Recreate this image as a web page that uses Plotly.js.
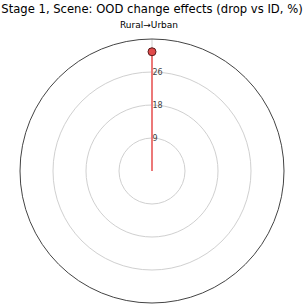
<!DOCTYPE html>
<html><head><meta charset="utf-8">
<script src="https://cdn.plot.ly/plotly-3.0.1.min.js"></script>
<style>html,body{margin:0;padding:0;background:#fff}</style>
</head><body>
<div id="chart" style="width:304px;height:304px"></div>
<script>
const categories = ['Rural→Urban'];
const dropValues = [31.8];
const radialTickVals = [8.8, 17.6, 26.4];
const radialTickText = ['9', '18', '26'];
const radialMax = 35.2;

const stemR = [], stemTheta = [];
categories.forEach((c, i) => { stemR.push(0, dropValues[i], null); stemTheta.push(c, c, c); });

const data = [
  {type: 'scatterpolar', mode: 'lines', r: stemR, theta: stemTheta,
   line: {color: '#ec7878', width: 2}, hoverinfo: 'skip', showlegend: false},
  {type: 'scatterpolar', mode: 'markers', r: dropValues, theta: categories,
   marker: {color: '#e04a4a', size: 8, line: {color: '#5a1a1a', width: 1}}, showlegend: false}
];

const layout = {
  width: 304, height: 304,
  margin: {l: 0, r: 0, t: 0, b: 0},
  paper_bgcolor: '#fff',
  font: {family: 'DejaVu Sans', color: '#000'},
  title: {text: 'Stage 1, Scene: OOD change effects (drop vs ID, %)',
          font: {family: 'DejaVu Sans', size: 11.6, color: '#000'},
          x: 0.5, xanchor: 'center', y: 0.97, yanchor: 'middle', yref: 'container'},
  polar: {
    domain: {x: [20/304, 284/304], y: [1 - 303/304, 1 - 39/304]},
    bgcolor: '#fff',
    angularaxis: {type: 'category', categoryarray: categories, rotation: 90, direction: 'clockwise',
      showline: true, linecolor: '#444', linewidth: 1,
      showgrid: true, gridcolor: '#d0d0d0', gridwidth: 1,
      ticks: '', showticklabels: false},
    radialaxis: {range: [0, radialMax], angle: 90, tickangle: 90,
      tickvals: radialTickVals, ticktext: radialTickText,
      showline: false, ticks: '', side: 'clockwise',
      showgrid: true, gridcolor: '#d0d0d0', gridwidth: 1,
      tickfont: {family: 'DejaVu Sans', size: 8, color: '#444'}}
  },
  annotations: [{text: categories[0], xref: 'paper', yref: 'paper', x: 148.5/304, y: 1 - 25/304,
    xanchor: 'center', yanchor: 'middle', showarrow: false,
    font: {family: 'DejaVu Sans', size: 9, color: '#000'}}]
};
Plotly.newPlot('chart', data, layout, {displayModeBar: false, staticPlot: true});
</script>
</body></html>
